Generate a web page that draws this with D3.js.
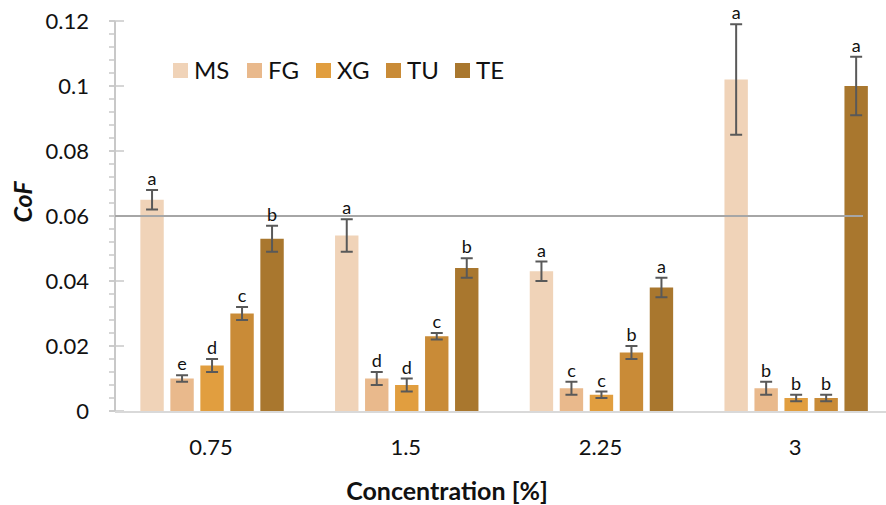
<!DOCTYPE html>
<html>
<head>
<meta charset="utf-8">
<script src="https://cdn.jsdelivr.net/npm/d3@7"></script>
<style>
  body { margin: 0; background: #fff; }
  svg { display: block; font-family: Lato, "Open Sans", sans-serif; }
</style>
</head>
<body>
<div id="chart"></div>
<script>
// categories and series
const concentrations = ["0.75", "1.5", "2.25", "3"];
const series = ["MS", "FG", "XG", "TU", "TE"];
const colors = ["#F0D3B8", "#E9B98C", "#E19E3F", "#C98B37", "#A9772E"];

// CoF mean values per series (one per concentration)
const msVals = [0.065, 0.054, 0.043, 0.102];
const fgVals = [0.010, 0.010, 0.007, 0.007];
const xgVals = [0.014, 0.008, 0.005, 0.004];
const tuVals = [0.030, 0.023, 0.018, 0.004];
const teVals = [0.053, 0.044, 0.038, 0.100];

// standard deviations
const msErr = [0.003, 0.005, 0.003, 0.017];
const fgErr = [0.001, 0.002, 0.002, 0.002];
const xgErr = [0.002, 0.002, 0.001, 0.001];
const tuErr = [0.002, 0.001, 0.002, 0.001];
const teErr = [0.004, 0.003, 0.003, 0.009];

// significance letters
const msLetters = ["a", "a", "a", "a"];
const fgLetters = ["e", "d", "c", "b"];
const xgLetters = ["d", "d", "c", "b"];
const tuLetters = ["c", "c", "b", "b"];
const teLetters = ["b", "b", "a", "a"];

const yTicks = [0, 0.02, 0.04, 0.06, 0.08, 0.1, 0.12];
const refLine = 0.06;

const values = [msVals, fgVals, xgVals, tuVals, teVals];
const errors = [msErr, fgErr, xgErr, tuErr, teErr];
const letters = [msLetters, fgLetters, xgLetters, tuLetters, teLetters];

const W = 886, H = 505;
const axisX = 115;

const svg = d3.select('#chart').append('svg')
    .attr('width', W)
    .attr('height', H);

const y = d3.scaleLinear().domain([0, 0.12]).range([411, 21]);

const x0 = d3.scaleBand()
    .domain(concentrations)
    .range([114.7, 893.5])
    .padding(0);

const x1 = d3.scaleBand()
    .domain(series)
    .range([-71.7, 71.7])
    .paddingInner(0.22)
    .paddingOuter(0);

// flatten data
const data = [];
concentrations.forEach((c, ci) => {
    series.forEach((s, si) => {
        data.push({
            c, s, si,
            v: values[si][ci],
            e: errors[si][ci],
            l: letters[si][ci]
        });
    });
});

const cx = d => x0(d.c) + x0.bandwidth() / 2;

// bars
svg.append('g').selectAll('rect')
    .data(data)
    .join('rect')
    .attr('x', d => cx(d) + x1(d.s))
    .attr('y', d => y(d.v))
    .attr('width', x1.bandwidth())
    .attr('height', d => y(0) - y(d.v))
    .attr('fill', d => colors[d.si]);

// y axis
const yAxis = svg.append('g');
yAxis.append('line')
    .attr('x1', axisX).attr('x2', axisX)
    .attr('y1', y(0.12)).attr('y2', y(0))
    .attr('stroke', '#c8c8c8').attr('stroke-width', 2);

const minorTicks = d3.range(0, 0.1201, 0.004);
yAxis.selectAll('.minor')
    .data(minorTicks)
    .join('line')
    .attr('x1', axisX - 6).attr('x2', axisX)
    .attr('y1', d => y(d)).attr('y2', d => y(d))
    .attr('stroke', '#c8c8c8').attr('stroke-width', 1.5);

yAxis.selectAll('.major')
    .data(yTicks)
    .join('line')
    .attr('x1', axisX - 6).attr('x2', axisX + 9)
    .attr('y1', d => y(d)).attr('y2', d => y(d))
    .attr('stroke', '#c8c8c8').attr('stroke-width', 1.5);

yAxis.selectAll('text')
    .data(yTicks)
    .join('text')
    .attr('x', 89)
    .attr('y', d => y(d))
    .attr('dy', '0.35em')
    .attr('text-anchor', 'end')
    .attr('font-size', 22)
    .attr('fill', '#111')
    .text(d => d3.format('')(d));

// x axis baseline
svg.append('line')
    .attr('x1', axisX).attr('x2', W)
    .attr('y1', y(0) + 1).attr('y2', y(0) + 1)
    .attr('stroke', '#d9d9d9').attr('stroke-width', 2);

// x tick labels
svg.append('g').selectAll('text')
    .data(concentrations)
    .join('text')
    .attr('x', c => x0(c) + x0.bandwidth() / 2 - 1)
    .attr('y', 455)
    .attr('text-anchor', 'middle')
    .attr('font-size', 22)
    .attr('fill', '#111')
    .text(c => c);

// reference line at 0.06
svg.append('line')
    .attr('x1', axisX).attr('x2', 863)
    .attr('y1', y(refLine)).attr('y2', y(refLine))
    .attr('stroke', '#a6a6a6').attr('stroke-width', 2);

// error bars
const eb = svg.append('g').attr('stroke', '#595959').attr('stroke-width', 2);
data.forEach(d => {
    const bx = cx(d) + x1(d.s) + x1.bandwidth() / 2;
    eb.append('line')
        .attr('x1', bx).attr('x2', bx)
        .attr('y1', y(d.v + d.e)).attr('y2', y(d.v - d.e));
    [d.v + d.e, d.v - d.e].forEach(v => {
        eb.append('line')
            .attr('x1', bx - 6).attr('x2', bx + 6)
            .attr('y1', y(v)).attr('y2', y(v));
    });
});

// letters
svg.append('g').selectAll('text')
    .data(data)
    .join('text')
    .attr('x', d => cx(d) + x1(d.s) + x1.bandwidth() / 2)
    .attr('y', d => y(d.v + d.e) - 5)
    .attr('text-anchor', 'middle')
    .attr('font-size', 18)
    .attr('fill', '#111')
    .text(d => d.l);

// legend
const legendX = [173, 247, 316, 386, 455];
const legend = svg.append('g');
series.forEach((s, i) => {
    legend.append('rect')
        .attr('x', legendX[i]).attr('y', 63)
        .attr('width', 15).attr('height', 15)
        .attr('fill', colors[i]);
    legend.append('text')
        .attr('x', legendX[i] + 21).attr('y', 79)
        .attr('font-size', 24)
        .attr('fill', '#111')
        .text(s);
});

// axis titles
svg.append('text')
    .attr('x', 447).attr('y', 500)
    .attr('text-anchor', 'middle')
    .attr('font-size', 25)
    .attr('font-weight', 'bold')
    .attr('fill', '#111')
    .text('Concentration [%]');

svg.append('text')
    .attr('transform', 'translate(32,202) rotate(-90)')
    .attr('text-anchor', 'middle')
    .attr('font-size', 25)
    .attr('font-weight', 'bold')
    .attr('font-style', 'italic')
    .attr('fill', '#111')
    .text('CoF');
</script>
</body>
</html>
